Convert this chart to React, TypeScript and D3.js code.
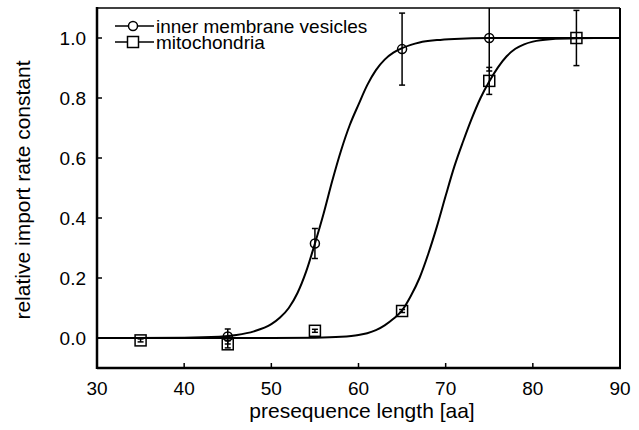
import React from "react";
import * as d3 from "d3";

// ---- data ----
const imvX = [45, 55, 65, 75];
const imvY = [0.005, 0.315, 0.963, 1.0];
const imvErr = [0.025, 0.05, 0.12, 0.11];

const mitoX = [35, 45, 55, 65, 75, 85];
const mitoY = [-0.008, -0.021, 0.024, 0.09, 0.857, 1.0];
const mitoErr = [0.005, 0.012, 0.005, 0.005, 0.045, 0.092];

// fitted curves
const imvCurveX = [30, 40, 44, 46, 48, 50, 51, 52, 53, 54, 55, 56, 57, 58, 59, 60, 61, 62, 63, 64, 65, 66, 67, 69, 71, 75, 90];
const imvCurveY = [0, 0.001, 0.004, 0.01, 0.022, 0.046, 0.068, 0.1, 0.15, 0.222, 0.315, 0.415, 0.525, 0.625, 0.71, 0.778, 0.843, 0.893, 0.928, 0.951, 0.966, 0.977, 0.985, 0.993, 0.997, 1.0, 1.0];
const mitoCurveX = [30, 50, 55, 58, 60, 61, 62, 63, 64, 65, 66, 67, 68, 69, 70, 71, 72, 73, 74, 75, 76, 77, 78, 79, 80, 82, 85, 90];
const mitoCurveY = [0, 0, 0.001, 0.004, 0.01, 0.016, 0.026, 0.042, 0.064, 0.092, 0.14, 0.2, 0.28, 0.372, 0.474, 0.572, 0.655, 0.732, 0.8, 0.855, 0.902, 0.939, 0.964, 0.979, 0.988, 0.996, 0.999, 1.0];

const xTicks = [30, 40, 50, 60, 70, 80, 90];
const yTicks = [0.0, 0.2, 0.4, 0.6, 0.8, 1.0];

const seriesNames = ["inner membrane vesicles", "mitochondria"];
const xTitle = "presequence length [aa]";
const yTitle = "relative import rate constant";

const FONT = "'Liberation Sans', Arial, Helvetica, sans-serif";

export default function App() {
  const W = 639, H = 430;
  const left = 97, right = 620, top = 8, bottom = 368;
  const x = d3.scaleLinear().domain([30, 90]).range([left, right]);
  const y = d3.scaleLinear().domain([-0.1, 1.1]).range([bottom, top]);

  const line = d3
    .line<[number, number]>()
    .x((d) => x(d[0]))
    .y((d) => y(d[1]))
    .curve(d3.curveMonotoneX);

  const imvPath = line(imvCurveX.map((v, i) => [v, imvCurveY[i]]))!;
  const mitoPath = line(mitoCurveX.map((v, i) => [v, mitoCurveY[i]]))!;

  const cap = 3;
  const sq = 5.5;
  const r = 4.5;

  const errBars = (xs: number[], ys: number[], es: number[], key: string) =>
    xs.map((xv, i) => {
      const cx = x(xv);
      const y1 = y(ys[i] + es[i]);
      const y2 = y(ys[i] - es[i]);
      return (
        <g key={key + i} stroke="#000" strokeWidth={1.5}>
          <line x1={cx} x2={cx} y1={y1} y2={y2} />
          <line x1={cx - cap} x2={cx + cap} y1={y1} y2={y1} />
          <line x1={cx - cap} x2={cx + cap} y1={y2} y2={y2} />
        </g>
      );
    });

  return (
    <div style={{ position: "absolute", left: 0, top: 0 }}>
      <svg width={W} height={H} style={{ display: "block", background: "#fff" }} fontFamily={FONT}>
        <defs>
          <clipPath id="plot">
            <rect x={left} y={top} width={right - left} height={bottom - top} />
          </clipPath>
        </defs>
        <rect x={0} y={0} width={W} height={H} fill="#fff" />

        <g clipPath="url(#plot)">
          <path d={imvPath} fill="none" stroke="#000" strokeWidth={2} />
          <path d={mitoPath} fill="none" stroke="#000" strokeWidth={2} />
          {errBars(imvX, imvY, imvErr, "ie")}
          {errBars(mitoX, mitoY, mitoErr, "me")}
          {imvX.map((xv, i) => (
            <circle key={"c" + i} cx={x(xv)} cy={y(imvY[i])} r={r} fill="none" stroke="#000" strokeWidth={1.5} />
          ))}
          {mitoX.map((xv, i) => (
            <rect
              key={"s" + i}
              x={x(xv) - sq}
              y={y(mitoY[i]) - sq}
              width={sq * 2}
              height={sq * 2}
              fill="none"
              stroke="#000"
              strokeWidth={1.5}
            />
          ))}
        </g>

        {/* frame */}
        <line x1={left} x2={right} y1={top} y2={top} stroke="#000" strokeWidth={1.5} />
        <line x1={right} x2={right} y1={top} y2={bottom} stroke="#000" strokeWidth={2} />
        <line x1={left} x2={right + 1} y1={bottom} y2={bottom} stroke="#000" strokeWidth={2.5} />
        <line x1={left} x2={left} y1={top - 1} y2={bottom + 1} stroke="#000" strokeWidth={2.5} />

        {/* x ticks */}
        {xTicks.map((t) => (
          <g key={"xt" + t}>
            {t !== 30 && t !== 90 && (
              <line x1={x(t)} x2={x(t)} y1={bottom} y2={bottom - 5} stroke="#000" strokeWidth={1.5} />
            )}
            <text x={x(t)} y={395} textAnchor="middle" fontSize={19} fill="#000">
              {t}
            </text>
          </g>
        ))}
        {/* y ticks */}
        {yTicks.map((t) => (
          <g key={"yt" + t}>
            <line x1={left} x2={left + 5} y1={y(t)} y2={y(t)} stroke="#000" strokeWidth={1.5} />
            <text x={86} y={y(t) + 7} textAnchor="end" fontSize={19} fill="#000">
              {t.toFixed(1)}
            </text>
          </g>
        ))}

        {/* axis titles */}
        <text x={362} y={418} textAnchor="middle" fontSize={21} fill="#000">
          {xTitle}
        </text>
        <text
          transform={`translate(30, ${(top + bottom) / 2 + 2}) rotate(-90)`}
          textAnchor="middle"
          fontSize={21}
          fill="#000"
        >
          {yTitle}
        </text>

        {/* legend */}
        {seriesNames.map((name, i) => {
          const ly = 26 + i * 16;
          return (
            <g key={"lg" + i}>
              <line x1={115} x2={154} y1={ly} y2={ly} stroke="#000" strokeWidth={1.5} />
              {i === 0 ? (
                <circle cx={133} cy={ly} r={r} fill="#fff" stroke="#000" strokeWidth={1.5} />
              ) : (
                <rect x={133 - sq} y={ly - sq} width={sq * 2} height={sq * 2} fill="#fff" stroke="#000" strokeWidth={1.5} />
              )}
              <text x={156} y={ly + 6.5} fontSize={19} fill="#000">
                {name}
              </text>
            </g>
          );
        })}
      </svg>
    </div>
  );
}
